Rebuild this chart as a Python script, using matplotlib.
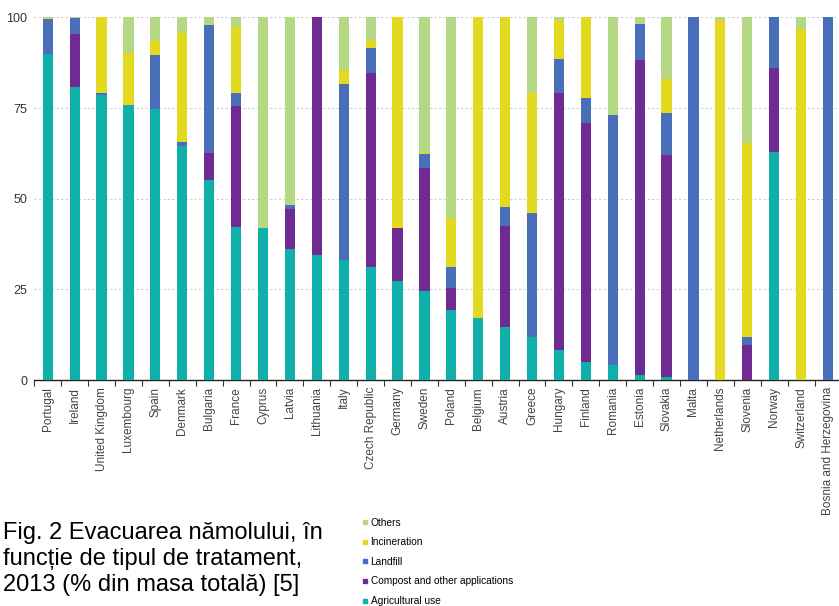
import matplotlib.pyplot as plt
from matplotlib.lines import Line2D
import numpy as np

plt.rcParams['font.family'] = ['Liberation Sans', 'DejaVu Sans']

countries = ['Portugal', 'Ireland', 'United Kingdom', 'Luxembourg', 'Spain', 'Denmark',
             'Bulgaria', 'France', 'Cyprus', 'Latvia', 'Lithuania', 'Italy',
             'Czech Republic', 'Germany', 'Sweden', 'Poland', 'Belgium', 'Austria',
             'Greece', 'Hungary', 'Finland', 'Romania', 'Estonia', 'Slovakia', 'Malta',
             'Netherlands', 'Slovenia', 'Norway', 'Switzerland', 'Bosnia and Herzegovina']

# % of total sludge mass, 2013
agricultural = [90.0, 80.7, 78.6, 75.7, 74.8, 64.5, 55.1, 42.3, 42.0, 36.1, 34.5, 33.2,
                31.2, 27.3, 24.5, 19.3, 17.2, 14.7, 11.8, 8.3, 4.9, 4.2, 1.3, 0.8, 0.0,
                0.0, 0.0, 63.0, 0.0, 0.0]
compost = [0.0, 14.6, 0.0, 0.0, 0.0, 0.0, 7.5, 33.3, 0.0, 11.1, 65.5, 0.0,
           53.5, 14.7, 34.0, 6.1, 0.0, 27.9, 0.0, 70.9, 66.1, 0.0, 86.8, 61.3, 0.0,
           0.0, 9.7, 23.0, 0.0, 0.0]
landfill = [9.6, 4.4, 0.4, 0.0, 14.7, 1.2, 35.2, 3.5, 0.0, 1.1, 0.0, 48.3,
            6.8, 0.0, 3.8, 5.7, 0.0, 5.2, 34.2, 9.2, 6.8, 68.9, 10.1, 11.6, 100.0,
            0.0, 2.1, 14.0, 0.0, 100.0]
incineration = [0.2, 0.0, 21.0, 14.6, 3.9, 29.9, 0.0, 18.3, 0.0, 0.0, 0.0, 3.9,
                2.2, 58.0, 0.4, 13.7, 82.8, 52.2, 33.2, 11.0, 22.2, 0.0, 0.0, 9.2, 0.0,
                99.3, 53.6, 0.0, 96.8, 0.0]
others = [0.2, 0.3, 0.0, 9.7, 6.6, 4.4, 2.2, 2.6, 58.0, 51.7, 0.0, 14.6,
          6.3, 0.0, 37.3, 55.2, 0.0, 0.0, 20.8, 0.6, 0.0, 26.9, 1.8, 17.1, 0.0,
          0.7, 34.6, 0.0, 3.2, 0.0]

series = [
    ('Agricultural use', agricultural, '#0fb0aa'),
    ('Compost and other applications', compost, '#6f2b91'),
    ('Landfill', landfill, '#4a6fba'),
    ('Incineration', incineration, '#e3d91f'),
    ('Others', others, '#b4d884'),
]

fig = plt.figure(figsize=(8.39, 6.06), dpi=100)
ax = fig.add_axes([0.0409, 0.3729, 0.962, 0.5985])

x = np.arange(len(countries))
bottom = np.zeros(len(countries))
for name, vals, col in series:
    vals = np.array(vals)
    ax.bar(x, vals, width=0.38, bottom=bottom, color=col, label=name, zorder=3)
    bottom += vals

ax.set_xlim(-0.5, len(countries) - 0.5)
ax.set_ylim(0, 100)
ax.set_yticks([0, 25, 50, 75, 100])
ax.tick_params(axis='y', length=0, labelsize=9, labelcolor='#333333', pad=5)
ax.yaxis.grid(True, color='#cfcfcf', linestyle=(0, (2, 2)), linewidth=0.8, zorder=0)

ax.set_xticks(x)
ax.set_xticklabels(countries, rotation=90, fontsize=8.5, color='#444444')
ax.tick_params(axis='x', which='major', length=0, pad=5)
ax.set_xticks(np.arange(-0.5, len(countries)), minor=True)
ax.tick_params(axis='x', which='minor', length=4, color='#333333', width=0.8)

for s in ['left', 'right', 'top']:
    ax.spines[s].set_visible(False)
ax.spines['bottom'].set_color('#222222')
ax.spines['bottom'].set_linewidth(1.0)

# legend, listed from top of the stack down
handles = [Line2D([], [], marker='s', linestyle='none', markersize=3.5,
                  color=col, label=name) for name, vals, col in series[::-1]]
fig.legend(handles=handles, loc='upper left', bbox_to_anchor=(0.432, 0.146),
           frameon=False, fontsize=7.3, handlelength=0.5, handletextpad=0.3,
           labelspacing=0.95, borderaxespad=0, borderpad=0)

fig.text(0.004, 0.139,
         'Fig. 2 Evacuarea nămolului, în\nfuncție de tipul de tratament,\n'
         '2013 (% din masa totală) [5]',
         fontsize=17, va='top', ha='left', linespacing=1.25)

fig.savefig('out.png', dpi=100)
